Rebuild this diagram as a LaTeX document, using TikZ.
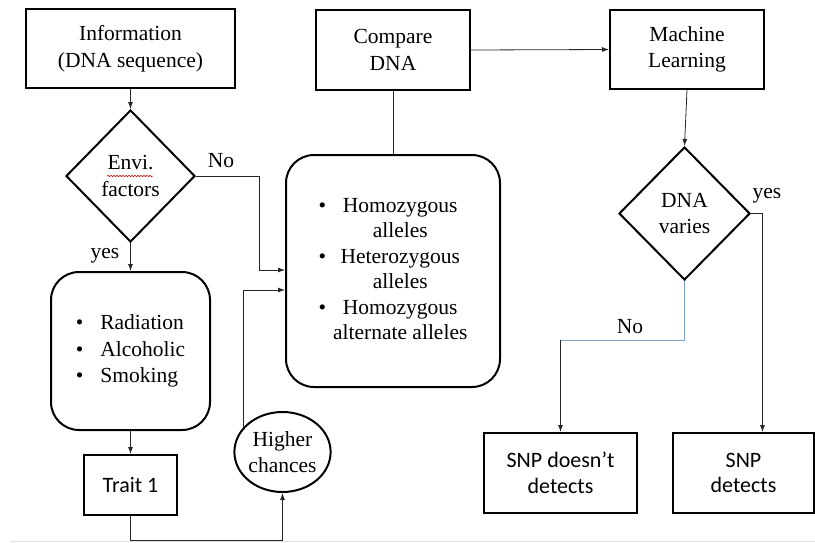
\documentclass[tikz,border=0pt]{standalone}
\usepackage{fontspec}
\setmainfont{Liberation Serif}
\newfontfamily\calib{Carlito}
\usetikzlibrary{shapes.geometric,arrows.meta,decorations.pathmorphing}

\definecolor{nolink}{RGB}{130,160,210}

\tikzset{
  txt/.style={font=\fontsize{21.5}{26.5}\selectfont, align=center},
  box/.style={txt, draw, line width=2pt, inner sep=0pt},
  roundbox/.style={box, rounded corners=28pt},
  decision/.style={box, diamond, aspect=1},
  sansbox/.style={box, font=\calib\fontsize{22}{25.5}\selectfont},
  link/.style={line width=0.8pt, draw=black!85},
  arrow/.style={link, -{Latex[length=7pt,width=5pt]}},
}

\begin{document}
\begin{tikzpicture}[x=1pt,y=-1pt]
\useasboundingbox (0,0) rectangle (815,542);

% left column
\node[box, minimum width=209, minimum height=79] (info) at (130.5,48.5) {Information\\(DNA sequence)};
\node[decision, minimum width=129, minimum height=132] (envi) at (130.5,176) {Envi.\\factors};
\node[roundbox, minimum width=159, minimum height=158] (causes) at (130.5,351)
  {\begin{tabular}{@{}l@{\hspace{17pt}}l@{}}
   \textbullet & Radiation\\
   \textbullet & Alcoholic\\
   \textbullet & Smoking
   \end{tabular}};
\node[sansbox, minimum width=93, minimum height=60] (trait) at (130.5,485) {Trait 1};
\node[box, ellipse, minimum width=95, minimum height=80] (higher) at (282.5,452) {Higher\\chances};

% middle column
\node[box, minimum width=154, minimum height=80] (compare) at (393,50) {Compare\\DNA};
\node[roundbox, minimum width=214, minimum height=232] (alleles) at (393,271)
  {\fontsize{21.5}{25.5}\selectfont
   \begin{tabular}{@{}l@{\hspace{7pt}}c@{}}
   \textbullet & Homozygous\\
               & alleles\\
   \textbullet & Heterozygous\\
               & alleles\\
   \textbullet & Homozygous\\
               & alternate alleles
   \end{tabular}};

% right column
\node[box, minimum width=154, minimum height=79] (ml) at (687,49.5) {Machine\\Learning};
\node[decision, minimum width=131, minimum height=133] (varies) at (684.5,213.5) {DNA\\varies};
\node[sansbox, minimum width=153, minimum height=80] (snpno) at (560.5,473) {SNP doesn’t\\detects};
\node[sansbox, minimum width=141, minimum height=80] (snpyes) at (743.5,473) {SNP\\detects};

% labels
\node[txt] (lno1) at (221,161) {No};
\node[txt] (lyes1) at (105,256) {yes};
\node[txt] (lyes2) at (767,196) {yes};
\node[txt] (lno2) at (630,327) {No};

% spelling squiggle
\draw[red!80!black, line width=0.5pt, decorate, decoration={snake, amplitude=0.8pt, segment length=3pt}]
  (107,176) -- (153,176);

% connectors
\draw[arrow] (info.south) -- (envi.north);
\draw[arrow] (envi.east) -- ++(63,0) |- ([yshift=1pt]alleles.west);
\draw[arrow] (envi.south) -- (causes.north);
\draw[arrow] (causes.south) -- (trait.north);
\draw[arrow] (trait.south) -- ++(0,24) -| (higher.south);
\draw[arrow] (higher.147) |- ([yshift=-19pt]alleles.west);
\draw[link] (compare.south) -- (alleles.north);
\draw[arrow] (compare.east) -- (ml.west);
\draw[arrow] (ml.south) -- (varies.north);
\draw[arrow] (varies.east) -| ([xshift=19pt]snpyes.north);
\coordinate (nobend) at (560.5,340);
\draw[line width=0.8pt, draw=nolink] (varies.south) |- (nobend);
\draw[arrow] (nobend) -- (snpno.north);

% slide edge
\draw[black!12, line width=1pt] (10,541) -- (815,541);
\end{tikzpicture}
\end{document}
